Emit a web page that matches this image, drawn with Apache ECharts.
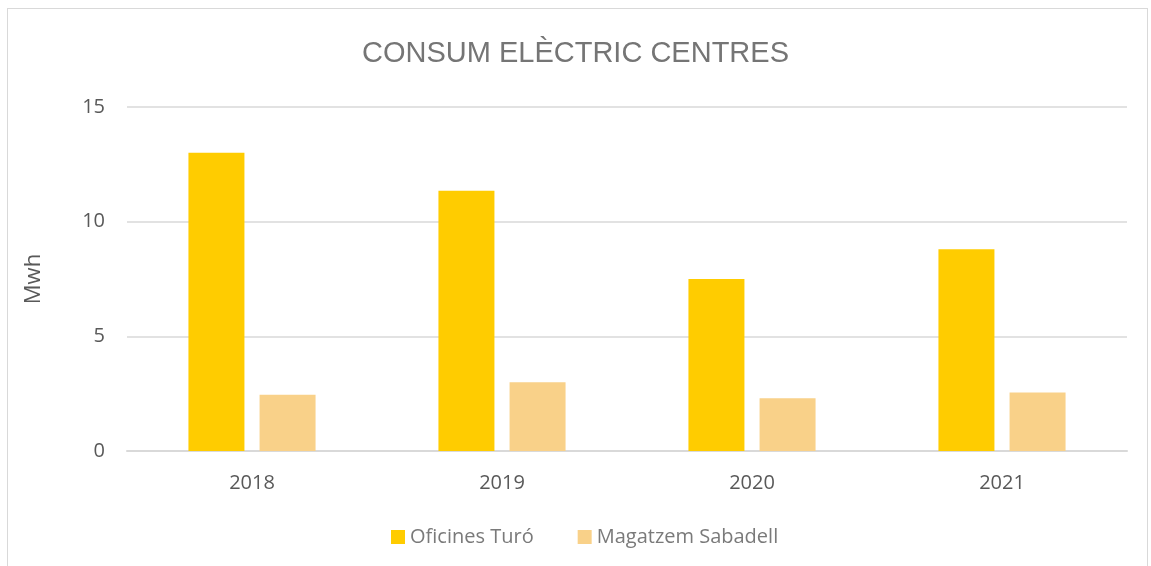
<!DOCTYPE html>
<html>
<head>
<meta charset="utf-8">
<script src="https://cdn.jsdelivr.net/npm/echarts@6/dist/echarts.min.js"></script>
<style>
  html, body { margin: 0; padding: 0; background: #fff; }
  #frame {
    position: absolute; left: 7px; top: 8px; width: 1141px; height: 570px;
    border: 1px solid #d9d9d9; box-sizing: border-box;
  }
  #chart { position: absolute; left: 0; top: 0; width: 1151px; height: 566px; }
</style>
</head>
<body>
<div id="frame"></div>
<div id="chart"></div>
<script>
const years = ['2018', '2019', '2020', '2021'];
const oficinesTuro = [13.0, 11.35, 7.5, 8.8];
const magatzemSabadell = [2.45, 3.0, 2.3, 2.55];
const seriesNames = ['Oficines Turó', 'Magatzem Sabadell'];

const chart = echarts.init(document.getElementById('chart'));
const font = 'Open Sans, Liberation Sans, sans-serif';
chart.setOption({
  animation: false,
  color: ['#ffcc00', '#f9d189'],
  title: {
    text: 'CONSUM ELÈCTRIC CENTRES',
    left: 'center',
    top: 34,
    textStyle: { fontFamily: 'Liberation Sans, sans-serif', fontSize: 29, fontWeight: 'normal', color: '#757575' }
  },
  legend: {
    data: seriesNames,
    bottom: 14,
    left: 386,
    icon: 'rect',
    itemWidth: 14,
    itemHeight: 14,
    itemGap: 44,
    itemTextGap: 6,
    textStyle: { fontFamily: font, fontSize: 20, color: '#7a7a7a' }
  },
  grid: { left: 127, right: 24, top: 107, bottom: 115 },
  xAxis: {
    type: 'category',
    data: years,
    axisLine: { lineStyle: { color: '#d9d9d9', width: 2 } },
    axisTick: { show: false },
    axisLabel: { fontFamily: font, fontSize: 20, color: '#595959', margin: 22 }
  },
  yAxis: {
    type: 'value',
    min: 0,
    max: 15,
    interval: 5,
    name: 'Mwh',
    nameLocation: 'middle',
    nameGap: 82,
    nameTextStyle: { fontFamily: font, fontSize: 22, color: '#595959' },
    axisLine: { show: false },
    axisTick: { show: false },
    splitLine: { lineStyle: { color: '#d9d9d9', width: 1.5 } },
    axisLabel: { fontFamily: font, fontSize: 20, color: '#595959', margin: 22 }
  },
  series: [
    {
      name: seriesNames[0], type: 'bar', data: oficinesTuro,
      barWidth: 56, barGap: '27%'
    },
    {
      name: seriesNames[1], type: 'bar', data: magatzemSabadell,
      barWidth: 56, barGap: '27%'
    }
  ]
});
</script>
</body>
</html>
